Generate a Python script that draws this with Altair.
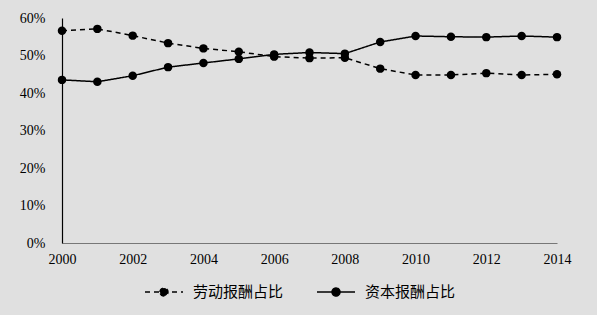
import altair as alt
import pandas as pd

years = list(range(2000, 2015))
labor = [56.6, 57.1, 55.3, 53.3, 51.9, 51.0, 49.7, 49.3, 49.4, 46.5, 44.8, 44.8, 45.3, 44.8, 45.0]
capital = [43.5, 43.0, 44.6, 46.9, 48.0, 49.1, 50.3, 50.8, 50.5, 53.6, 55.2, 55.0, 54.9, 55.2, 54.9]
series_names = ["劳动报酬占比", "资本报酬占比"]
y_ticks = [0, 0.1, 0.2, 0.3, 0.4, 0.5, 0.6]
x_ticks = [2000, 2002, 2004, 2006, 2008, 2010, 2012, 2014]

rows = []
for i, yr in enumerate(years):
    rows.append({"year": yr, "share": labor[i] / 100, "series": series_names[0]})
    rows.append({"year": yr, "share": capital[i] / 100, "series": series_names[1]})
df = pd.DataFrame(rows)

x_enc = alt.X("year:Q", scale=alt.Scale(domain=[2000, 2014], nice=False, zero=False),
              axis=alt.Axis(values=x_ticks, format="d", title=None, ticks=False, grid=False,
                            domainColor="#777777", labelPadding=9, labelFlush=False,
                            labelOverlap=False, labelBound=False))
y_enc = alt.Y("share:Q", scale=alt.Scale(domain=[0, 0.6], nice=False),
              axis=alt.Axis(values=y_ticks, format=".0%", title=None, ticks=False, grid=False,
                            domainColor="#000000", labelPadding=17, labelFlush=False,
                            labelOverlap=False, labelBound=False))

base = alt.Chart(df).encode(x=x_enc, y=y_enc)

symbol_path = "M-1,0H1M-0.21,0A0.21,0.21 0 1,1 0.21,0A0.21,0.21 0 1,1 -0.21,0Z"

line = base.mark_line(color="black", strokeWidth=1.5).encode(
    strokeDash=alt.StrokeDash(
        "series:N",
        scale=alt.Scale(domain=series_names, range=[[5, 4], [1, 0]]),
        sort=series_names,
        legend=alt.Legend(
            title=None, orient="none", direction="horizontal", columns=2,
            legendX=82, legendY=254,
            symbolType=symbol_path, symbolSize=1444,
            symbolStrokeColor="black", symbolFillColor="black", symbolStrokeWidth=1.5,
            labelFont="Noto Sans CJK SC", labelFontSize=15, labelColor="black",
            labelLimit=200, columnPadding=30, labelOffset=9,
        ),
    ),
    detail="series:N",
)

points = base.mark_point(filled=True, color="black", size=72, opacity=1)

chart = alt.layer(line, points).properties(
    width=495, height=225,
    autosize=alt.AutoSizeParams(type="none"),
    padding={"left": 62, "top": 18, "right": 40, "bottom": 72},
    background="#e0e0e0",
).configure_view(stroke=None).configure_axis(
    labelFont="Liberation Serif", labelFontSize=14, labelColor="black", domainWidth=1.2,
    labelOverlap=False,
)

chart.save("out.html", embed_options={"renderer": "svg", "actions": False})
